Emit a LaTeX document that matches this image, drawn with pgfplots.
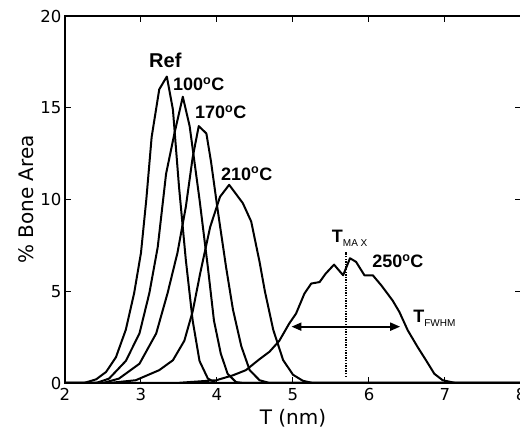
\documentclass[border=0pt]{standalone}
\usepackage{fontspec}
\setmainfont{DejaVu Sans}
\newfontfamily\arialfont{Liberation Sans}
\usepackage{pgfplots}
\pgfplotsset{compat=1.18}
\usetikzlibrary{arrows.meta}

\newcommand{\degc}{\textsuperscript{o}C}
\newcommand{\annot}{\arialfont\bfseries\fontsize{18}{20}\selectfont}

\begin{document}
\begin{tikzpicture}
\begin{axis}[
  name=ax,
  scale only axis,
  width=456pt, height=367pt,
  xmin=2, xmax=8, ymin=0, ymax=20,
  xtick={2,3,...,8}, ytick={0,5,...,20},
  tick align=inside,
  major tick length=6pt,
  tick style={line width=1pt, black},
  axis line style={line width=1.6pt},
  ticklabel style={font=\fontsize{16.5}{18}\selectfont},
  xticklabel style={yshift=-2pt},
  /pgf/number format/assume math mode=true,
  xlabel={T (nm)}, ylabel={\% Bone Area},
  label style={font=\fontsize{20}{22}\selectfont},
  xlabel style={yshift=-1pt},
  no markers,
  every axis plot post/.append style={black, line width=2pt, line join=round},
  clip=true,
]
% Ref
\addplot coordinates {(2.0,0) (2.25,0) (2.41,0.2) (2.54,0.6) (2.67,1.4) (2.8,2.9)
  (2.91,4.9) (3.0,7.1) (3.07,10.0) (3.14,13.4) (3.24,16.0) (3.34,16.7) (3.42,14.9)
  (3.5,10.7) (3.59,6.7) (3.68,3.4) (3.77,1.2) (3.88,0.24) (3.99,0) (8,0)};
% 100 C
\addplot coordinates {(2.0,0) (2.41,0) (2.58,0.24) (2.8,1.2) (2.98,2.7) (3.11,4.9)
  (3.22,7.4) (3.33,11.4) (3.44,13.6) (3.55,15.6) (3.64,14.0) (3.77,10.0) (3.88,6.3)
  (3.96,3.4) (4.05,1.6) (4.14,0.5) (4.25,0.05) (4.35,0) (8,0)};
% 170 C
\addplot coordinates {(2.0,0) (2.5,0) (2.71,0.24) (2.98,1.05) (3.2,2.7) (3.35,4.9)
  (3.48,7.1) (3.59,9.6) (3.68,12.3) (3.76,14.0) (3.86,13.6) (3.92,12.1) (4.01,9.4)
  (4.12,6.3) (4.21,4.0) (4.32,2.0) (4.43,0.7) (4.56,0.15) (4.69,0) (8,0)};
% 210 C
\addplot coordinates {(2.0,0) (2.58,0) (2.93,0.15) (3.24,0.7) (3.42,1.24) (3.57,2.3)
  (3.68,3.9) (3.78,6.0) (3.91,8.5) (4.04,10.15) (4.16,10.8) (4.25,10.3) (4.34,9.8)
  (4.45,8.8) (4.56,6.6) (4.63,5.0) (4.74,2.9) (4.87,1.25) (5.0,0.45) (5.13,0.12)
  (5.26,0) (8,0)};
% 250 C
\addplot coordinates {(2.0,0) (3.46,0) (3.99,0.15) (4.21,0.42) (4.38,0.7) (4.56,1.3)
  (4.69,1.7) (4.82,2.3) (4.95,3.24) (5.04,3.78) (5.15,4.87) (5.24,5.42) (5.35,5.5)
  (5.43,5.96) (5.54,6.45) (5.66,5.87) (5.75,6.8) (5.83,6.6) (5.94,5.87) (6.05,5.87)
  (6.16,5.33) (6.31,4.5) (6.4,3.87) (6.51,2.87) (6.64,1.96) (6.75,1.24) (6.86,0.5)
  (6.97,0.15) (7.14,0) (8,0)};
% T_max marker and FWHM arrow
\addplot[line width=1.6pt, dash pattern=on 1.3pt off 1.3pt]
  coordinates {(5.70,0.33) (5.70,7.15)};
\addplot[line width=1.6pt,
  {Triangle[length=10pt,width=8pt]}-{Triangle[length=10pt,width=8pt]}]
  coordinates {(4.98,3.07) (6.41,3.07)};

\node[inner sep=0pt] at (axis cs:3.32,17.6) {\arialfont\bfseries\fontsize{20}{22}\selectfont Ref};
\node[inner sep=0pt] at (axis cs:3.76,16.3) {\annot 100\degc};
\node[inner sep=0pt] at (axis cs:4.05,14.75) {\annot 170\degc};
\node[inner sep=0pt] at (axis cs:4.39,11.4) {\annot 210\degc};
\node[inner sep=0pt] at (axis cs:6.38,6.62) {\annot 250\degc};
\node[inner sep=0pt, anchor=base west] at (axis cs:5.51,7.68)
  {\annot T\raisebox{-4pt}{\mdseries\fontsize{10}{10}\selectfont MA X}};
\node[inner sep=0pt, anchor=base west] at (axis cs:6.58,3.27)
  {\annot T\raisebox{-4pt}{\mdseries\fontsize{10}{10}\selectfont FWHM}};
\end{axis}
\pgfresetboundingbox
\path[use as bounding box] ([shift={(-65pt,-47pt)}]ax.south west) rectangle ([shift={(455pt,383pt)}]ax.south west);
\end{tikzpicture}
\end{document}
